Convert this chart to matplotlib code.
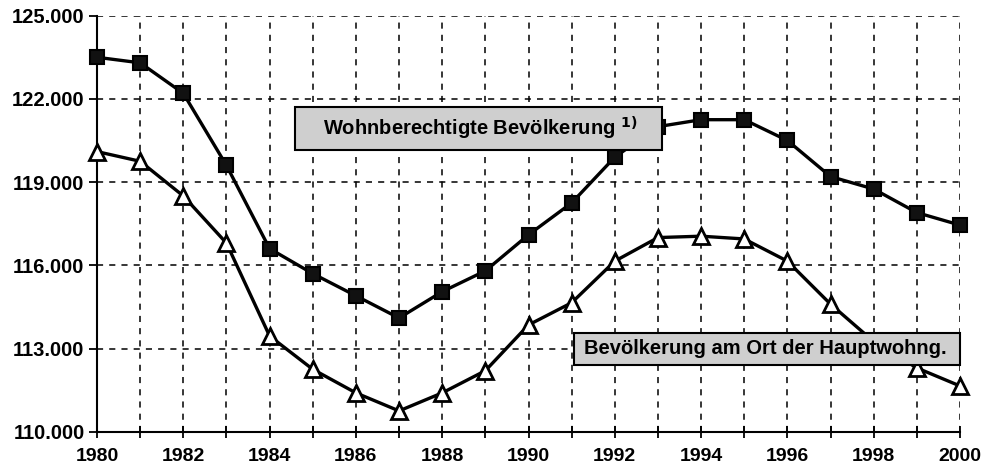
import matplotlib
matplotlib.use("Agg")
import matplotlib.pyplot as plt
from matplotlib.patches import Rectangle
from matplotlib.ticker import FuncFormatter, MultipleLocator

plt.rcParams['font.family'] = ['Liberation Sans', 'DejaVu Sans']

years = list(range(1980, 2001))
wohnberechtigt = [123500, 123300, 122200, 119600, 116600, 115700, 114900, 114100,
                  115050, 115800, 117100, 118250, 119900, 121000, 121250, 121250,
                  120500, 119200, 118750, 117900, 117450]
hauptwohnung = [120100, 119750, 118500, 116800, 113450, 112250, 111400, 110750,
                111400, 112200, 113850, 114650, 116150, 117000, 117050, 116950,
                116150, 114600, 113250, 112300, 111650]
y_ticks = [110000, 113000, 116000, 119000, 122000, 125000]
label1 = "Wohnberechtigte Bevölkerung"
label2 = "Bevölkerung am Ort der Hauptwohng."

fig = plt.figure(figsize=(9.84, 4.71), dpi=100)
ax = fig.add_axes([0.0986, 0.0834, 0.877, 0.8833])

ax.plot(years, wohnberechtigt, color='black', lw=2.4, marker='s', markersize=10,
        markerfacecolor='#111111', markeredgecolor='black', markeredgewidth=1.5,
        zorder=3, clip_on=False)
ax.plot(years, hauptwohnung, color='black', lw=2.4, marker='^', markersize=11,
        markerfacecolor='white', markeredgecolor='black', markeredgewidth=2,
        zorder=3, clip_on=False)

ax.set_xlim(1980, 2000)
ax.set_ylim(110000, 125000)
ax.set_yticks(y_ticks)
ax.yaxis.set_major_formatter(FuncFormatter(lambda v, p: f"{int(v):,}".replace(",", ".")))
ax.xaxis.set_major_locator(MultipleLocator(1))
ax.xaxis.set_major_formatter(FuncFormatter(lambda v, p: f"{int(round(v))}" if int(round(v)) % 2 == 0 else ""))

ax.grid(True, color='black', linestyle=(0, (4, 4)), linewidth=1.1)
for s in ['top', 'right']:
    ax.spines[s].set_visible(False)
ax.spines['left'].set_linewidth(1.5)
ax.spines['bottom'].set_linewidth(1.5)

ax.tick_params(axis='x', direction='inout', length=9, width=1.3, pad=7, labelsize=14)
ax.tick_params(axis='y', direction='out', length=6, width=1.3, pad=3, labelsize=14.5)
for lab in ax.get_xticklabels() + ax.get_yticklabels():
    lab.set_fontweight('bold')

# label boxes
box_fc = '#cfcfcf'
ax.add_patch(Rectangle((0.229, 0.677), 0.426, 0.103, transform=ax.transAxes,
                       facecolor=box_fc, edgecolor='black', lw=1.5, zorder=5, clip_on=False))
ax.text(0.444, 0.728, label1 + r" $^{\mathbf{1)}}$", transform=ax.transAxes,
        ha='center', va='center', fontsize=14.5, fontweight='bold', zorder=6)
ax.add_patch(Rectangle((0.553, 0.160), 0.447, 0.077, transform=ax.transAxes,
                       facecolor=box_fc, edgecolor='black', lw=1.5, zorder=5, clip_on=False))
ax.text(0.774, 0.199, label2, transform=ax.transAxes,
        ha='center', va='center', fontsize=14.5, fontweight='bold', zorder=6)

fig.savefig("out.png", dpi=100)
